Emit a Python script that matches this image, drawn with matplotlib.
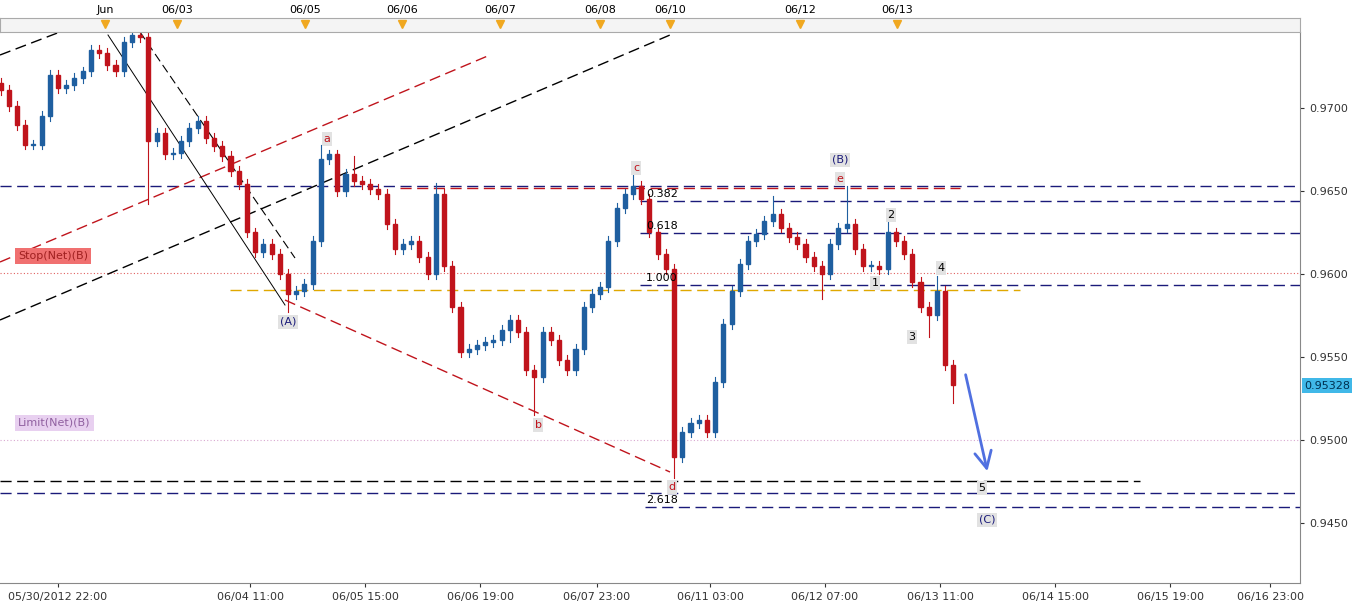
import matplotlib
matplotlib.use("Agg")
import matplotlib.pyplot as plt
from matplotlib.patches import Rectangle

closes = [0.9711,0.9701,0.9690,0.9678,0.9678,0.9695,0.9720,0.9712,0.9714,0.9718,
0.9722,0.9735,0.9733,0.9726,0.9722,0.9740,0.9744,0.9743,0.9680,0.9685,
0.9672,0.9673,0.9680,0.9688,0.9692,0.9682,0.9677,0.9671,0.9662,0.9654,
0.9625,0.9613,0.9618,0.9612,0.9600,0.9588,0.9590,0.9594,0.9620,0.9669,
0.9672,0.9650,0.9660,0.9656,0.9654,0.9651,0.9648,0.9630,0.9615,0.9618,
0.9620,0.9610,0.9600,0.9648,0.9605,0.9580,0.9553,0.9555,0.9557,0.9559,
0.9560,0.9566,0.9572,0.9565,0.9542,0.9538,0.9565,0.9560,0.9548,0.9542,
0.9555,0.9580,0.9588,0.9592,0.9620,0.9640,0.9648,0.9653,0.9645,0.9625,
0.9612,0.9603,0.9490,0.9505,0.9510,0.9512,0.9505,0.9535,0.9570,0.9590,
0.9606,0.9620,0.9624,0.9632,0.9636,0.9628,0.9622,0.9618,0.9610,0.9605,
0.9600,0.9618,0.9628,0.9630,0.9615,0.9605,0.9605,0.9603,0.9625,0.9620,
0.9612,0.9595,0.9580,0.9575,0.9590,0.9545,0.9533]
first_open = 0.9715
wick_hi_extra = {16:0.0004, 39:0.0006, 43:0.0008, 53:0.0004, 77:0.0005, 94:0.0008, 103:0.0020, 108:0.0004, 114:0.0006}
wick_lo_extra = {18:0.0035, 35:0.0008, 62:0.0004, 65:0.0020, 82:0.0010, 100:0.0012, 113:0.0010, 116:0.0008}
bottom_labels = ["05/30/2012 22:00","06/04 11:00","06/05 15:00","06/06 19:00","06/07 23:00",
                 "06/11 03:00","06/12 07:00","06/13 11:00","06/14 15:00","06/15 19:00","06/16 23:00"]
bottom_label_px = [58,250,365,480,597,710,825,940,1055,1170,1270]
top_labels = ["Jun","06/03","06/05","06/06","06/07","06/08","06/10","06/12","06/13"]
top_label_px = [105,177,305,402,500,600,670,800,897]
yticks = [0.9450,0.9500,0.9550,0.9600,0.9650,0.9700]
last_price = 0.95328

def px2h(x): return (x-58)*28/115.0
def px2p(y): return 0.9700-(y-108)*0.005/83.0

W,H = 1360,608
fig = plt.figure(figsize=(W/100,H/100), dpi=100)
fig.patch.set_facecolor("white")
ax = fig.add_axes([0, (608-583)/608, 1300/1360, (583-32)/608])
ax.set_xlim(px2h(0), px2h(1300))
ax.set_ylim(px2p(583), px2p(32))
ax.set_facecolor("white")
for s in ["top","left"]: ax.spines[s].set_visible(False)
for s in ["bottom","right"]: ax.spines[s].set_color("#888888")

RED, BLUE = "#c0141c", "#1f5fa0"
opens = [first_open]+closes[:-1]
for i,(o,c) in enumerate(zip(opens,closes)):
    h = -14+2*i
    col = BLUE if c>=o else RED
    hi = max(o,c)+0.0003+wick_hi_extra.get(i,0)
    lo = min(o,c)-0.0003-wick_lo_extra.get(i,0)
    ax.plot([h,h],[lo,hi],color=col,lw=0.8,zorder=3)
    ax.add_patch(Rectangle((h-0.5,min(o,c)),1.0,max(abs(c-o),0.00005),color=col,zorder=4))

def hline(y,x0,x1,color,ls,lw=1.0):
    ax.plot([px2h(x0),px2h(x1)],[px2p(y),px2p(y)],color=color,ls=ls,lw=lw,zorder=2)
NAVY="#1a1a7a"
hline(186,0,1300,NAVY,(0,(8,4)))
hline(201,640,1300,NAVY,(0,(8,4)))
hline(233,640,1300,NAVY,(0,(8,4)))
hline(285,640,1300,NAVY,(0,(8,4)))
hline(493,0,1300,NAVY,(0,(8,4)))
hline(507,645,1300,NAVY,(0,(8,4)))
hline(481,0,1140,"black",(0,(8,4)))
hline(188,400,960,RED,(0,(8,4)))
hline(273,0,1300,"#e06060",(0,(1,2)),0.8)
hline(440,0,1300,"#d8a8d0",(0,(1,2)),0.8)
hline(290,230,1020,"#e0a800",(0,(8,4)))

def seg(x0,y0,x1,y1,color,ls,lw=1.0):
    ax.plot([px2h(x0),px2h(x1)],[px2p(y0),px2p(y1)],color=color,ls=ls,lw=lw,zorder=2)
seg(0,320,670,35,"black",(0,(8,4)))
seg(0,55,60,32,"black",(0,(8,4)))
seg(0,262,490,55,RED,(0,(8,4)))
seg(108,35,285,305,"black","-",0.7)
seg(140,32,295,258,"black",(0,(8,4)),0.8)
seg(285,300,670,472,RED,(0,(8,4)))
ax.annotate("",xy=(px2h(988),px2p(474)),xytext=(px2h(965),px2p(372)),
            arrowprops=dict(arrowstyle="->,head_length=1.2,head_width=0.6",color="#5070e0",lw=2))

def lab(x,y,t,c):
    ax.text(px2h(x),px2p(y),t,color=c,fontsize=8,ha="center",va="center",zorder=6,
            bbox=dict(boxstyle="square,pad=0.15",fc="#e2e2e2",ec="none"))
for x,y,t,c in [(327,139,"a",RED),(636,168,"c",RED),(538,425,"b",RED),(672,487,"d",RED),
                (840,179,"e",RED),(840,160,"(B)",NAVY),(288,322,"(A)",NAVY),(891,215,"2","black"),
                (875,283,"1","black"),(941,268,"4","black"),(912,337,"3","black"),
                (982,488,"5","black"),(987,520,"(C)",NAVY)]:
    lab(x,y,t,c)
for y,t in [(194,"0.382"),(226,"0.618"),(278,"1.000"),(500,"2.618")]:
    ax.text(px2h(646),px2p(y),t,fontsize=8,ha="left",va="center",zorder=6)
ax.text(px2h(18),px2p(256),"Stop(Net)(B)",fontsize=8,color="#a02020",va="center",
        bbox=dict(boxstyle="square,pad=0.3",fc="#f07070",ec="none"),zorder=6)
ax.text(px2h(18),px2p(423),"Limit(Net)(B)",fontsize=8,color="#9060a0",va="center",
        bbox=dict(boxstyle="square,pad=0.3",fc="#e8d0f0",ec="none"),zorder=6)

ax.yaxis.tick_right()
ax.set_yticks(yticks)
ax.set_yticklabels([f"{v:.4f}" for v in yticks],fontsize=8)
ax.set_xticks([px2h(x) for x in bottom_label_px])
ax.set_xticklabels(bottom_labels,fontsize=8)
ax.tick_params(length=3,colors="#333333")
ax.text(1.003,last_price,f"{last_price:.5f}",transform=ax.get_yaxis_transform(),fontsize=8,
        va="center",ha="left",color="#003050",bbox=dict(boxstyle="square,pad=0.2",fc="#40b8e8",ec="none"))

tx = fig.add_axes([0,(608-32)/608,1300/1360,14/608])
tx.set_xlim(ax.get_xlim()); tx.set_ylim(0,1)
tx.set_facecolor("#f4f4f4")
tx.set_yticks([]); tx.set_xticks([])
for s in tx.spines.values(): s.set_color("#aaaaaa")
for x,t in zip(top_label_px,top_labels):
    h=px2h(x)
    tx.plot([h],[0.55],marker="v",color="#f0a820",ms=6)
    fig.text(x/1360,1-10/608,t,fontsize=8,ha="center",va="center")
fig.savefig("out.png",dpi=100)
